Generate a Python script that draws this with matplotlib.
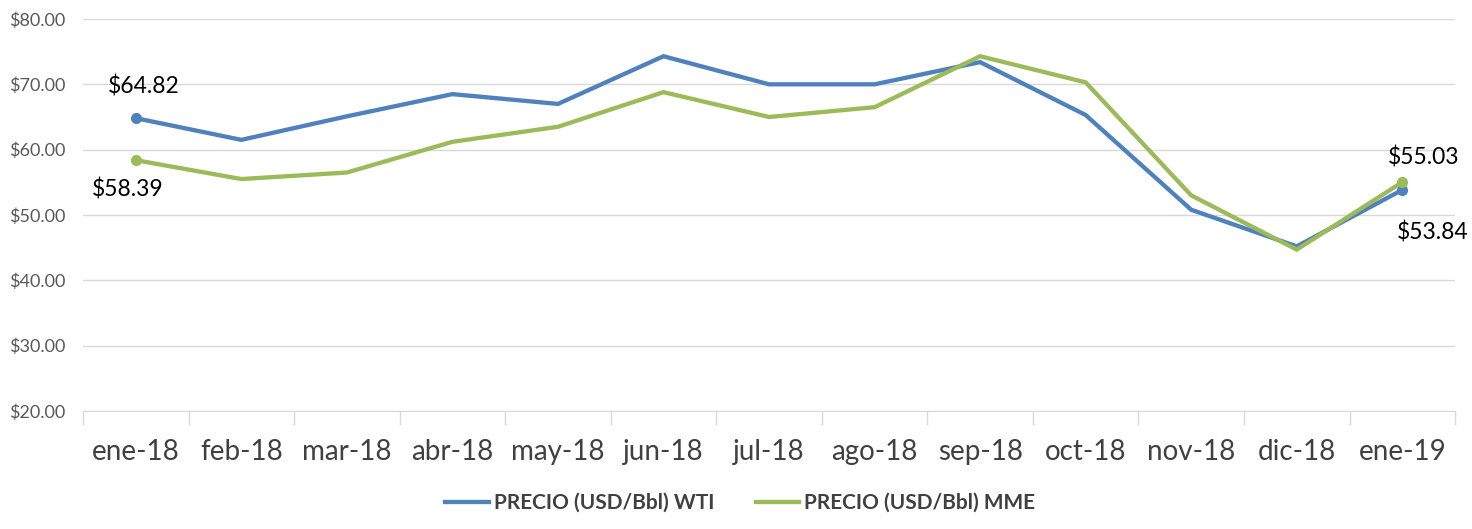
import matplotlib.pyplot as plt
import numpy as np

plt.rcParams["font.family"] = ["Lato", "DejaVu Sans"]

meses = ["ene-18", "feb-18", "mar-18", "abr-18", "may-18", "jun-18", "jul-18",
         "ago-18", "sep-18", "oct-18", "nov-18", "dic-18", "ene-19"]
wti = [64.82, 61.5, 65.1, 68.5, 67.0, 74.3, 70.0, 70.0, 73.4, 65.3, 50.8, 45.2, 53.84]
mme = [58.39, 55.5, 56.5, 61.2, 63.5, 68.8, 65.0, 66.5, 74.3, 70.3, 53.0, 44.7, 55.03]
yticks = [20, 30, 40, 50, 60, 70, 80]

c_wti = "#4f81bd"
c_mme = "#9bbb59"

fig = plt.figure(figsize=(14.72, 5.29), dpi=100)
ax = fig.add_axes([0.0564, 0.2231, 0.9321, 0.741])

x = np.arange(len(meses))
ax.plot(x, wti, color=c_wti, lw=3.1, solid_joinstyle="miter", label="PRECIO (USD/Bbl) WTI", zorder=3)
ax.plot(x, mme, color=c_mme, lw=3.1, solid_joinstyle="miter", label="PRECIO (USD/Bbl) MME", zorder=4)
ax.plot(x[[0, -1]], np.array(wti)[[0, -1]], "o", color=c_wti, ms=7, zorder=3)
ax.plot(x[[0, -1]], np.array(mme)[[0, -1]], "o", color=c_mme, ms=7, zorder=4)

def lab(xi, v, dx, dy):
    ax.annotate(f"${v:.2f}", xy=(xi, v), xytext=(dx, dy), textcoords="offset pixels",
                ha="center", va="center", fontsize=16.5, color="black")

lab(0, wti[0], 8, 32)
lab(0, mme[0], -8, -29)
lab(12, mme[-1], 21, 25)
lab(12, wti[-1], 30, -43)

ax.set_xlim(-0.5, len(meses) - 0.5)
ax.set_ylim(20, 80)
ax.set_yticks(yticks)
ax.set_yticklabels([f"${v:.2f}" for v in yticks])
ax.set_xticks(x)
ax.set_xticklabels(meses)
ax.set_xticks(np.arange(-0.5, len(meses), 1), minor=True)
ax.tick_params(axis="x", which="major", length=0, pad=20, labelsize=20, labelcolor="#404040")
ax.tick_params(axis="x", which="minor", length=10, color="#d9d9d9", width=1)
ax.tick_params(axis="y", length=0, pad=13, labelsize=13, labelcolor="#595959")
ax.grid(axis="y", color="#d9d9d9", lw=1)
ax.set_axisbelow(True)
for s in ["top", "right", "left"]:
    ax.spines[s].set_visible(False)
ax.spines["bottom"].set_color("#d9d9d9")

leg = fig.legend(loc="center", bbox_to_anchor=(0.503, 0.049), ncol=2, frameon=False,
                 prop={"weight": "bold", "size": 15}, handlelength=2.07,
                 handletextpad=0.25, columnspacing=2.0)
for t in leg.get_texts():
    t.set_color("#404040")

fig.savefig("out.png", dpi=100)
